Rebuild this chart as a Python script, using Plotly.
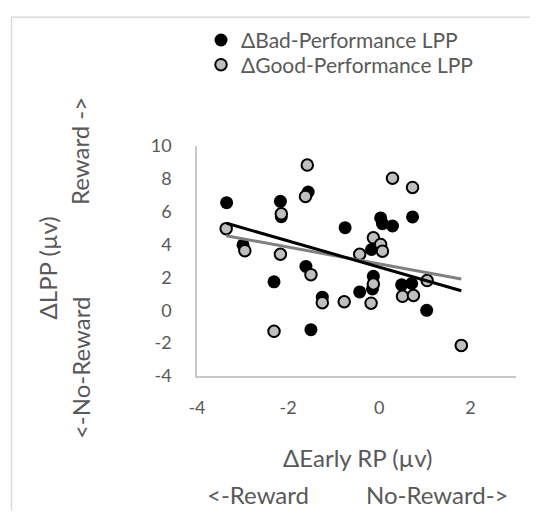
import numpy as np
import plotly.graph_objects as go

# Data
bad_x = [-3.35, -2.99, -2.17, -2.15, -1.56, -0.75, -1.61, -2.31, -1.25, -1.50,
         0.03, 0.07, 0.29, 0.73, -0.17, -0.13, -0.43, -0.15, 0.49, 0.71, 1.04, 1.80]
bad_y = [6.55, 3.98, 6.63, 5.70, 7.20, 5.03, 2.67, 1.73, 0.80, -1.18,
         5.62, 5.27, 5.13, 5.68, 3.70, 2.07, 1.12, 1.30, 1.55, 1.63, 0.00, -2.14]
good_x = [-3.36, -2.95, -2.17, -2.15, -1.62, -1.58, -1.50, -1.25, -0.77, -2.31,
          0.29, 0.73, -0.13, 0.03, 0.07, -0.43, -0.13, -0.18, 0.51, 0.75, 1.05, 1.80]
good_y = [4.97, 3.63, 3.41, 5.87, 6.93, 8.84, 2.17, 0.46, 0.52, -1.28,
          8.04, 7.48, 4.41, 4.01, 3.60, 3.41, 1.60, 0.43, 0.85, 0.90, 1.81, -2.14]
x_ticks = [-4, -2, 0, 2]
y_ticks = [-4, -2, 0, 2, 4, 6, 8, 10]

FONT = "Lato"
TXT = "#595959"

OFF = 8  # page body margin
W, H = 538 - 2 * OFF, 520 - 2 * OFF
L, T = 197 - OFF, 143 - OFF
pw, ph = 319, 233
R, B = W - L - pw, H - T - ph


def px(x):
    return (x - OFF - L) / pw


def py(y):
    return (H - B - (y - OFF)) / ph


def fit(xs, ys):
    m, c = np.polyfit(xs, ys, 1)
    xx = np.array([min(xs), max(xs)])
    return xx, m * xx + c


fig = go.Figure()
fig.add_trace(go.Scatter(x=bad_x, y=bad_y, mode="markers", name="ΔBad-Performance LPP",
                         legend="legend",
                         marker=dict(color="black", size=13, line=dict(width=0))))
fig.add_trace(go.Scatter(x=good_x, y=good_y, mode="markers", name="ΔGood-Performance LPP",
                         legend="legend2",
                         marker=dict(color="#bfbfbf", size=11.5, line=dict(color="black", width=2))))
gx, gy = fit(good_x, good_y)
fig.add_trace(go.Scatter(x=gx, y=gy, mode="lines", showlegend=False,
                         line=dict(color="#808080", width=3), hoverinfo="skip"))
bx, by = fit(bad_x, bad_y)
fig.add_trace(go.Scatter(x=bx, y=by, mode="lines", showlegend=False,
                         line=dict(color="black", width=3), hoverinfo="skip"))

ann = [
    ("ΔLPP (µv)", 47, 267, -90),
    ("<-No-Reward", 80, 368, -90),
    ("Reward ->", 80, 148, -90),
    ("ΔEarly RP (µv)", 357, 459, 0),
    ("<-Reward", 257.5, 496, 0),
    ("No-Reward->", 436.5, 496, 0),
]
annotations = [dict(text=t, x=px(x), y=py(y), xref="paper", yref="paper", showarrow=False,
                    textangle=a, xanchor="center", yanchor="middle",
                    font=dict(family=FONT, size=24, color=TXT)) for t, x, y, a in ann]

leg = dict(xanchor="left", yanchor="middle", font=dict(family=FONT, size=21, color=TXT),
           bgcolor="rgba(0,0,0,0)", itemsizing="trace")

fig.update_layout(
    width=W, height=H, margin=dict(l=L, r=R, t=T, b=B),
    paper_bgcolor="white", plot_bgcolor="white",
    font=dict(family=FONT, size=18, color=TXT),
    showlegend=True,
    legend=dict(leg, x=px(201), y=py(36)),
    legend2=dict(leg, x=px(201), y=py(61)),
    xaxis=dict(range=[-4, 3], tickvals=x_ticks, ticktext=[str(v) for v in x_ticks],
               showgrid=False, zeroline=False, showline=True, linecolor="#c8c8c8", linewidth=1.5,
               ticks="", ticklabelstandoff=15, tickfont=dict(family=FONT, size=18, color=TXT)),
    yaxis=dict(range=[-4, 10], tickvals=y_ticks, ticktext=[str(v) for v in y_ticks],
               showgrid=False, zeroline=False, showline=True, linecolor="#c8c8c8", linewidth=1.5,
               ticks="", ticklabelstandoff=20, tickfont=dict(family=FONT, size=18, color=TXT)),
    annotations=annotations,
    shapes=[
        dict(type="line", xref="paper", yref="paper", x0=px(11.5), x1=px(11.5), y0=py(12.5), y1=py(OFF + H),
             line=dict(color="#d9d9d9", width=1.5)),
        dict(type="line", xref="paper", yref="paper", x0=px(11.5), x1=px(OFF + W), y0=py(12.5), y1=py(12.5),
             line=dict(color="#d9d9d9", width=1.5)),
    ],
)

fig.write_html("out.html")
